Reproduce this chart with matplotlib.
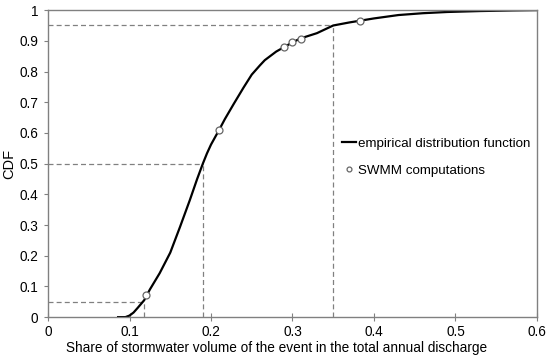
import matplotlib.pyplot as plt

plt.rcParams['font.family'] = ['Liberation Sans', 'DejaVu Sans']

# --- empirical distribution function ---
cdf_x = [0.086, 0.095, 0.100, 0.105, 0.110, 0.118, 0.125, 0.137, 0.150, 0.162,
         0.174, 0.183, 0.190, 0.195, 0.200, 0.210, 0.217, 0.228, 0.240, 0.250,
         0.260, 0.266, 0.280, 0.290, 0.300, 0.310, 0.330, 0.350, 0.370, 0.400,
         0.430, 0.460, 0.490, 0.530, 0.570, 0.600]
cdf_y = [0.000, 0.000, 0.005, 0.015, 0.030, 0.055, 0.090, 0.143, 0.210, 0.294,
         0.381, 0.450, 0.500, 0.533, 0.562, 0.610, 0.645, 0.695, 0.748, 0.790,
         0.820, 0.837, 0.865, 0.880, 0.895, 0.908, 0.925, 0.950, 0.960, 0.973,
         0.984, 0.990, 0.994, 0.997, 0.999, 1.000]

# --- SWMM computations ---
swmm_x = [0.12, 0.21, 0.29, 0.30, 0.311, 0.383]
swmm_y = [0.072, 0.609, 0.880, 0.895, 0.906, 0.964]

# --- quantile guide lines (x value, probability) ---
quantiles = [(0.118, 0.05), (0.19, 0.50), (0.35, 0.95)]

fig = plt.figure(figsize=(5.5, 3.62), dpi=100)
ax = fig.add_axes([0.0873, 0.124, 0.889, 0.848])

guide = '#808080'
for qx, qy in quantiles:
    ax.plot([0, qx], [qy, qy], color=guide, lw=0.9, ls=(0, (4, 2.5)))
    ax.plot([qx, qx], [0, qy], color=guide, lw=0.9, ls=(0, (4, 2.5)))

ax.plot(cdf_x, cdf_y, color='black', lw=1.6, label='empirical distribution function')
ax.plot(swmm_x, swmm_y, ls='none', marker='o', ms=5, mfc='white', mec='#666666',
        mew=0.9, label='SWMM computations')

ax.set_xlim(0, 0.6)
ax.set_ylim(0, 1)
ax.set_xticks([0, 0.1, 0.2, 0.3, 0.4, 0.5, 0.6])
ax.set_xticklabels(['0', '0.1', '0.2', '0.3', '0.4', '0.5', '0.6'])
ax.set_yticks([i / 10 for i in range(11)])
ax.set_yticklabels(['0', '0.1', '0.2', '0.3', '0.4', '0.5', '0.6', '0.7', '0.8', '0.9', '1'])

for s in ax.spines.values():
    s.set_color('#808080')
    s.set_linewidth(1.0)
ax.tick_params(axis='x', direction='inout', length=6, color='#808080', labelsize=9.8, pad=3)
ax.tick_params(axis='y', direction='out', length=3, color='#808080', labelsize=9.8, pad=4)

ax.set_xlabel('Share of stormwater volume of the event in the total annual discharge',
              fontsize=9.8)
ax.xaxis.set_label_coords(0.468, -0.078)
ax.set_ylabel('CDF', fontsize=10.5, labelpad=2)

leg = ax.legend(loc='upper right', bbox_to_anchor=(1.012, 0.625), frameon=False,
                fontsize=9.6, handlelength=1.0, handletextpad=0.2, labelspacing=1.1,
                markerscale=0.7)

fig.savefig('out.png', dpi=100)
